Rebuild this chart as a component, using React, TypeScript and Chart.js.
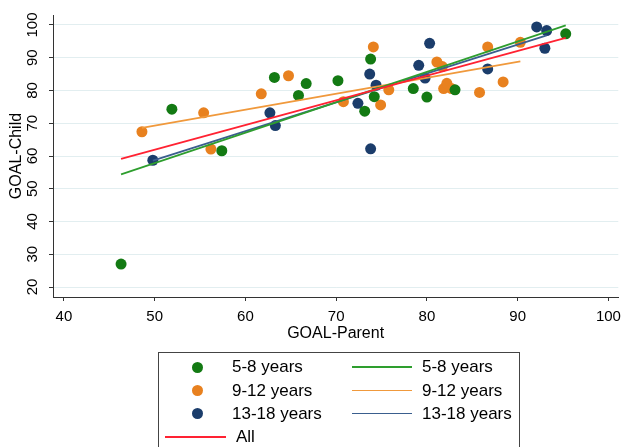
import React, { useEffect, useRef } from "react";
import { Chart, registerables } from "chart.js";

Chart.register(...registerables);

const FONT = '"Liberation Sans", Arial, Helvetica, sans-serif';

// ---- data ----
const xTicks = [40, 50, 60, 70, 80, 90, 100];
const yTicks = [20, 30, 40, 50, 60, 70, 80, 90, 100];

const groupLabels = ["5-8 years", "9-12 years", "13-18 years"];
const allLabel = "All";

const age58X = [46.3, 51.9, 57.4, 63.2, 65.85, 66.7, 70.2, 73.15, 73.8, 74.2, 78.5, 80.0, 83.1, 95.3];
const age58Y = [27.0, 74.3, 61.6, 84.0, 78.5, 82.1, 83.0, 73.7, 89.6, 78.1, 80.6, 78.0, 80.2, 97.3];

const age912X = [48.6, 55.4, 56.2, 61.75, 64.75, 70.8, 74.1, 74.9, 75.8, 81.1, 81.7, 81.85, 82.2, 82.7, 85.8, 86.7, 88.4, 90.3];
const age912Y = [67.4, 73.2, 62.1, 79.0, 84.5, 76.6, 93.3, 75.6, 80.2, 88.7, 87.3, 80.6, 82.2, 80.6, 79.4, 93.3, 82.6, 94.7];

const age1318X = [49.8, 62.7, 63.3, 72.4, 73.7, 73.8, 74.4, 79.1, 79.8, 80.3, 86.7, 92.1, 93.0, 93.2];
const age1318Y = [58.7, 73.2, 69.3, 76.1, 85.0, 62.2, 81.6, 87.7, 83.8, 94.4, 86.6, 99.4, 92.9, 98.3];

// fitted lines (end points)
const fit58X = [46.3, 95.3];
const fit58Y = [54.4, 99.9];
const fit912X = [48.6, 90.3];
const fit912Y = [68.6, 88.9];
const fit1318X = [49.8, 93.2];
const fit1318Y = [58.6, 96.8];
const fitAllX = [46.3, 95.3];
const fitAllY = [59.1, 96.1];

// ---- styles ----
const dotColors = ["#137a13", "#e8811f", "#1b3d6b"];
const lineColors = ["#2e9e2e", "#f0993c", "#3a5e8e"];
const allColor = "#ff2232";

const toPts = (xs: number[], ys: number[]) => xs.map((x, i) => ({ x, y: ys[i] }));

export default function App() {
  const ref = useRef<HTMLCanvasElement | null>(null);

  useEffect(() => {
    if (!ref.current) return;
    const pointSets = [
      [age58X, age58Y],
      [age912X, age912Y],
      [age1318X, age1318Y],
    ];
    const fitSets = [
      [fit58X, fit58Y],
      [fit912X, fit912Y],
      [fit1318X, fit1318Y],
    ];
    const datasets: any[] = [];
    pointSets.forEach(([xs, ys], i) => {
      datasets.push({
        type: "scatter",
        label: groupLabels[i],
        data: toPts(xs, ys),
        backgroundColor: dotColors[i],
        borderColor: dotColors[i],
        borderWidth: 0,
        pointRadius: 5.5,
        order: 2,
      });
    });
    fitSets.forEach(([xs, ys], i) => {
      datasets.push({
        type: "line",
        label: groupLabels[i],
        data: toPts(xs, ys),
        borderColor: lineColors[i],
        borderWidth: 1.8,
        pointRadius: 0,
        fill: false,
        order: 1,
      });
    });
    datasets.push({
      type: "line",
      label: allLabel,
      data: toPts(fitAllX, fitAllY),
      borderColor: allColor,
      borderWidth: 1.8,
      pointRadius: 0,
      fill: false,
      order: 0,
    });

    const chart = new Chart(ref.current, {
      type: "scatter",
      data: { datasets },
      options: {
        animation: false,
        responsive: false,
        layout: { padding: { top: 15, right: 3, bottom: 102, left: 0 } },
        plugins: { legend: { display: false }, tooltip: { enabled: false } },
        scales: {
          x: {
            type: "linear",
            min: 38.8,
            max: 101.09,
            afterBuildTicks: (s: any) => {
              s.ticks = xTicks.map((v) => ({ value: v }));
            },
            afterFit: (s: any) => {
              s.height = 48;
            },
            grid: { drawOnChartArea: false, tickLength: 4, tickColor: "#333" },
            border: { color: "#333", width: 1 },
            ticks: {
              autoSkip: false,
              maxRotation: 0,
              minRotation: 0,
              padding: 7,
              color: "#000",
              font: { family: FONT, size: 15 },
            },
            title: {
              display: true,
              text: "GOAL-Parent",
              color: "#000",
              font: { family: FONT, size: 16 },
              padding: { top: 0, bottom: 2 },
            },
          },
          y: {
            type: "linear",
            min: 16.95,
            max: 103.05,
            afterBuildTicks: (s: any) => {
              s.ticks = yTicks.map((v) => ({ value: v }));
            },
            afterFit: (s: any) => {
              s.width = 53;
            },
            grid: { color: "#e2eef0", lineWidth: 1, tickLength: 4, tickColor: "#333" },
            border: { color: "#333", width: 1 },
            ticks: {
              autoSkip: false,
              minRotation: 90,
              maxRotation: 90,
              crossAlign: "center",
              padding: 4,
              color: "#000",
              font: { family: FONT, size: 15 },
            },
            title: {
              display: true,
              text: "GOAL-Child",
              color: "#000",
              font: { family: FONT, size: 16 },
              padding: { top: 7, bottom: 0 },
            },
          },
        },
      },
    } as any);
    return () => chart.destroy();
  }, []);

  const rowY = [367, 390.5, 413.5, 437];
  const textStyle: React.CSSProperties = {
    position: "absolute",
    fontFamily: FONT,
    fontSize: 17,
    lineHeight: "20px",
    color: "#000",
    whiteSpace: "nowrap",
  };

  return (
    <div style={{ position: "fixed", left: 0, top: 0, width: 628, height: 447, background: "#fff", overflow: "hidden" }}>
      <canvas ref={ref} width={628} height={447} style={{ display: "block", width: 628, height: 447 }} />
      <div
        style={{
          position: "absolute",
          left: 158,
          top: 352,
          width: 362,
          height: 120,
          border: "1px solid #444",
          boxSizing: "border-box",
        }}
      />
      {groupLabels.map((lab, i) => (
        <React.Fragment key={lab}>
          <div
            style={{
              position: "absolute",
              left: 197 - 5.5,
              top: rowY[i] - 5.5,
              width: 11,
              height: 11,
              borderRadius: "50%",
              background: dotColors[i],
            }}
          />
          <div style={{ ...textStyle, left: 232, top: rowY[i] - 10 }}>{lab}</div>
          <div
            style={{
              position: "absolute",
              left: 352,
              top: rowY[i] - 0.9,
              width: 60,
              height: 1.8,
              background: lineColors[i],
            }}
          />
          <div style={{ ...textStyle, left: 422, top: rowY[i] - 10 }}>{lab}</div>
        </React.Fragment>
      ))}
      <div
        style={{
          position: "absolute",
          left: 165,
          top: rowY[3] - 0.9,
          width: 61,
          height: 1.8,
          background: allColor,
        }}
      />
      <div style={{ ...textStyle, left: 236, top: rowY[3] - 10 }}>{allLabel}</div>
    </div>
  );
}
